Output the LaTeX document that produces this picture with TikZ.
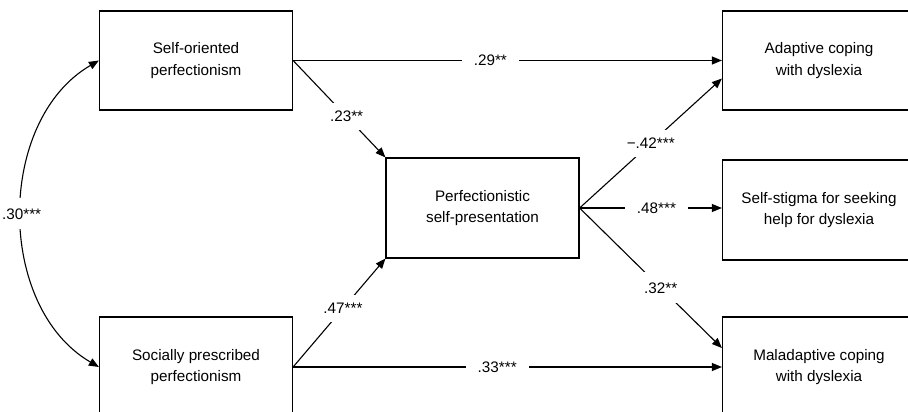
\documentclass[tikz,border=0pt]{standalone}
\usepackage{fontspec}
\setmainfont{Liberation Sans}
\usetikzlibrary{arrows.meta}
\begin{document}
\begin{tikzpicture}[x=1pt,y=-1pt,
  box/.style={draw, line width=1.2pt, minimum width=193pt, minimum height=99pt, align=center, font=\fontsize{15.25}{21.5}\selectfont, inner sep=0pt},
  pth/.style={line width=1.1pt, -{Triangle[length=10pt,width=8pt]}},
  dpth/.style={line width=1.1pt, {Triangle[length=10pt,width=8pt]}-{Triangle[length=10pt,width=8pt]}},
  lab/.style={fill=white, font=\fontsize{15.25}{18}\selectfont, inner sep=8pt},
  hlab/.style={lab, inner xsep=12pt, inner ysep=2pt}]
\useasboundingbox (0,0) rectangle (908,412);
\clip (0,0) rectangle (908,412);
\fill[white] (0,0) rectangle (908,412);
\node[box] (so) at (196,60.5) {Self-oriented\\perfectionism};
\node[box, minimum height=100pt] (sp) at (196,367) {Socially prescribed\\perfectionism};
\node[box, minimum height=100pt] (ps) at (482.5,208) {Perfectionistic\\self-presentation};
\node[box] (ad) at (819,60.5) {Adaptive coping\\with dyslexia};
\node[box, minimum height=100pt] (ss) at (819,210) {Self-stigma for seeking\\help for dyslexia};
\node[box, minimum height=100pt] (mal) at (819,367) {Maladaptive coping\\with dyslexia};

\draw[pth] (so.east) -- node[hlab, pos=0.46] {.29**} (ad.west);
\draw[pth] (so.east) -- node[lab, pos=0.58] {.23**} (ps.north west);
\draw[pth] (sp.east) -- node[lab, pos=0.54] {.47***} (ps.south west);
\draw[pth] (sp.east) -- node[hlab, pos=0.476] {.33***} (mal.west);
\draw[pth] (ps.east) -- node[lab, pos=0.5] {−.42***} ([yshift=-18pt]ad.west);
\draw[pth] (ps.east) -- node[hlab, pos=0.54] {.48***} (ps.east -| ss.west);
\draw[pth] (ps.east) -- node[lab, pos=0.57, inner sep=10pt] {.32**} ([yshift=19pt]mal.west);
\draw[dpth] (so.west) .. controls +(-103,60) and +(-103,-60) .. node[lab, inner xsep=2pt, inner ysep=10pt] {.30***} (sp.west);
\end{tikzpicture}
\end{document}
